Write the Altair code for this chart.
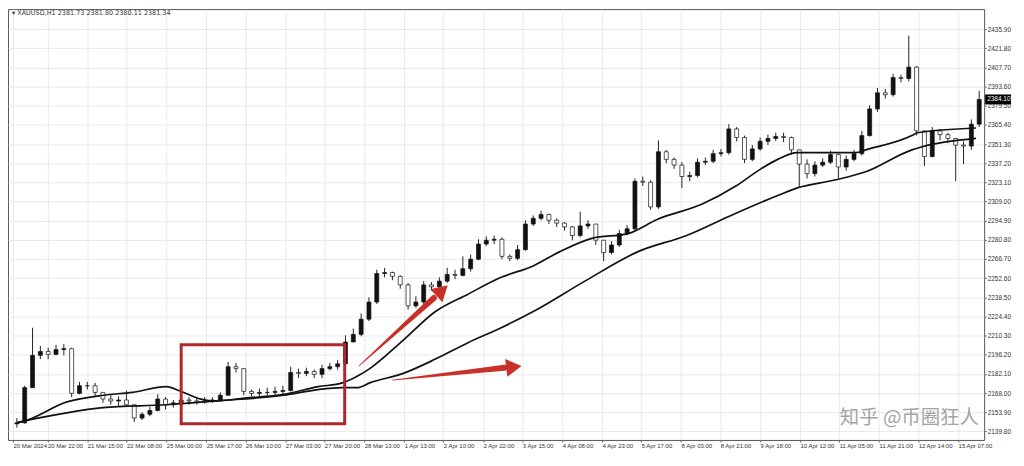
import json
import altair as alt
import pandas as pd

# ---------------- data ----------------
first_open = 2145.4
closes = [2146.1, 2172.0, 2195.8, 2198.6, 2196.5, 2200.0, 2200.7, 2167.8, 2173.4, 2173.4,
          2168.5, 2163.6, 2162.2, 2162.9, 2159.4, 2149.6, 2152.4, 2155.2, 2163.6, 2159.4,
          2160.8, 2162.9, 2162.2, 2161.5, 2162.2, 2162.9, 2166.4, 2187.4, 2186.0, 2169.2,
          2167.8, 2168.5, 2168.5, 2169.2, 2169.9, 2183.2, 2182.5, 2183.9, 2181.8, 2186.0,
          2187.4, 2189.5, 2205.6, 2211.2, 2222.4, 2235.0, 2256.0, 2256.7, 2253.9, 2247.6,
          2232.2, 2235.0, 2247.6, 2246.2, 2250.4, 2255.3, 2254.6, 2259.5, 2266.5, 2277.7,
          2280.5, 2281.2, 2268.6, 2267.2, 2273.5, 2292.4, 2296.6, 2299.4, 2295.2, 2293.1,
          2290.3, 2284.0, 2291.0, 2292.4, 2280.5, 2271.4, 2277.0, 2285.4, 2288.9, 2323.9,
          2323.2, 2305.0, 2345.6, 2340.0, 2335.8, 2327.4, 2328.1, 2337.9, 2338.6, 2344.2,
          2344.9, 2362.4, 2356.1, 2340.0, 2347.7, 2353.3, 2355.4, 2356.8, 2356.1, 2347.0,
          2336.5, 2329.5, 2335.8, 2337.9, 2343.5, 2334.4, 2340.0, 2344.2, 2357.5, 2377.1,
          2389.0, 2387.6, 2400.2, 2399.5, 2407.9, 2361.0, 2342.1, 2361.0, 2358.2, 2355.4,
          2350.5, 2349.8, 2365.9, 2384.1]
highs = [2149.6, 2173.4, 2216.1, 2202.8, 2201.4, 2203.5, 2204.2, 2201.4, 2176.2, 2176.2,
         2175.5, 2168.5, 2166.4, 2165.7, 2169.9, 2159.4, 2153.8, 2158.0, 2167.1, 2165.0,
         2162.9, 2166.4, 2165.0, 2164.3, 2165.0, 2165.0, 2168.5, 2190.9, 2190.2, 2186.0,
         2170.6, 2171.3, 2172.0, 2172.7, 2173.4, 2187.4, 2186.0, 2186.7, 2185.3, 2188.8,
         2190.2, 2192.3, 2210.5, 2215.4, 2226.6, 2238.5, 2258.8, 2260.2, 2257.4, 2254.6,
         2249.0, 2239.2, 2250.4, 2249.7, 2253.2, 2260.2, 2258.8, 2268.6, 2270.0, 2281.2,
         2283.3, 2284.0, 2282.6, 2270.0, 2277.0, 2295.2, 2298.7, 2302.2, 2300.1, 2296.6,
         2293.8, 2291.0, 2301.5, 2295.2, 2292.4, 2280.5, 2279.8, 2288.2, 2291.7, 2326.0,
         2327.4, 2324.6, 2354.0, 2347.0, 2341.4, 2337.9, 2330.9, 2340.7, 2341.4, 2347.0,
         2347.7, 2365.9, 2363.8, 2357.5, 2350.5, 2356.1, 2358.2, 2359.6, 2359.6, 2356.8,
         2347.0, 2340.0, 2338.6, 2340.7, 2346.3, 2344.2, 2342.8, 2347.0, 2361.0, 2379.9,
         2392.5, 2391.8, 2403.0, 2402.3, 2431.0, 2408.6, 2361.0, 2363.8, 2362.4, 2359.6,
         2355.4, 2353.3, 2369.4, 2390.4]
lows = [2142.6, 2145.4, 2172.0, 2193.0, 2193.0, 2195.8, 2195.8, 2165.0, 2167.1, 2170.6,
        2165.0, 2160.8, 2159.4, 2158.7, 2158.0, 2146.8, 2148.2, 2151.0, 2154.5, 2155.9,
        2157.3, 2158.7, 2159.4, 2159.4, 2160.1, 2160.8, 2161.5, 2166.4, 2183.2, 2166.4,
        2165.7, 2165.7, 2166.4, 2166.4, 2167.1, 2169.2, 2179.0, 2180.4, 2179.0, 2179.0,
        2184.6, 2185.3, 2188.1, 2205.6, 2209.8, 2221.0, 2233.6, 2253.2, 2251.1, 2244.8,
        2229.4, 2230.8, 2233.6, 2243.4, 2244.8, 2249.0, 2251.8, 2253.9, 2257.4, 2265.8,
        2276.3, 2277.7, 2266.5, 2265.1, 2265.8, 2272.8, 2291.0, 2295.2, 2292.4, 2290.3,
        2287.5, 2280.5, 2282.6, 2288.9, 2277.0, 2265.1, 2270.0, 2275.6, 2284.0, 2287.5,
        2320.4, 2302.9, 2303.6, 2337.2, 2333.0, 2319.0, 2323.9, 2326.7, 2335.8, 2337.2,
        2342.1, 2343.5, 2353.3, 2337.2, 2338.6, 2346.3, 2350.5, 2353.3, 2352.6, 2343.5,
        2319.0, 2326.0, 2327.4, 2334.4, 2336.5, 2326.0, 2331.6, 2338.6, 2342.8, 2356.8,
        2375.0, 2384.8, 2386.2, 2396.7, 2397.4, 2357.5, 2335.1, 2341.4, 2354.0, 2351.9,
        2323.9, 2336.5, 2347.0, 2363.8]

ma_fast_bar = [0, 1, 6.4, 11, 14.75, 19.1, 21, 23.5, 25.4, 29.1, 34.1, 38.5, 41.6, 43.5, 45.1,
               49.4, 53.5, 57.6, 61.9, 66, 69.4, 73.5, 78.1, 81.9, 87.6, 91.9, 95.1, 97.25,
               99.75, 104.4, 107.25, 108.5, 114.4, 115.1, 122.6]
ma_fast_val = [2146.1, 2147.5, 2161.5, 2166.4, 2168.5, 2172.7, 2169.2, 2163.6, 2162.2, 2164.3,
               2167.1, 2172.7, 2175.5, 2180.4, 2186.0, 2207.0, 2228.0, 2240.6, 2253.2, 2261.6,
               2272.1, 2281.9, 2285.4, 2295.9, 2307.1, 2320.4, 2333.0, 2340.0, 2344.9, 2344.9,
               2344.9, 2347.0, 2357.5, 2359.6, 2363.1]
ma_slow_bar = [0, 1, 6, 11, 19.1, 25.4, 34.1, 38.5, 41.6, 43.5, 45.1, 49.4, 53.5, 57.6, 61.9,
               66, 72.6, 79.4, 85.6, 91, 97.25, 99.75, 104.4, 108.5, 114.4, 115.6, 122.6]
ma_slow_val = [2146.1, 2147.5, 2153.1, 2157.3, 2159.4, 2162.2, 2166.4, 2170.6, 2172.0, 2172.0,
               2175.5, 2182.5, 2193.0, 2204.9, 2216.1, 2228.0, 2250.4, 2272.1, 2284.0, 2298.0,
               2313.4, 2319.0, 2324.6, 2330.9, 2347.0, 2349.1, 2355.4]

ytick_vals = [2435.90, 2421.80, 2407.70, 2393.60, 2379.50, 2365.40, 2351.30, 2337.20,
              2323.10, 2309.00, 2294.90, 2280.80, 2266.70, 2252.60, 2238.50, 2224.40,
              2210.30, 2196.20, 2182.10, 2168.00, 2153.90, 2139.80]
xtick_pos = [-0.5, 3.9, 9.0, 14.0, 19.1, 24.2, 29.2, 34.3, 39.3, 44.4, 49.5, 54.5, 59.6,
             64.6, 69.7, 74.8, 79.8, 84.9, 89.9, 95.0, 100.1, 105.1, 110.2, 115.2, 120.3]
xtick_labels = ["20 Mar 2024", "20 Mar 22:00", "21 Mar 15:00", "22 Mar 08:00", "25 Mar 00:00",
                "25 Mar 17:00", "26 Mar 10:00", "27 Mar 03:00", "27 Mar 20:00", "28 Mar 13:00",
                "1 Apr 13:00", "2 Apr 10:00", "2 Apr 22:00", "3 Apr 15:00", "4 Apr 08:00",
                "4 Apr 23:00", "5 Apr 17:00", "8 Apr 03:00", "8 Apr 21:00", "9 Apr 18:00",
                "10 Apr 12:00", "11 Apr 05:00", "11 Apr 21:00", "12 Apr 14:00", "15 Apr 07:00"]

# annotation box and arrows (bar index, price)
box_bar = [21.0, 41.9]
box_price = [2145.4, 2203.5]
arrow_id = ["a1", "a1", "a2", "a2"]
arrow_bar = [43.75, 53.3, 48.0, 62.3]
arrow_price = [2188.1, 2238.0, 2177.6, 2186.6]
arrow_width = [0.8, 6.0, 0.8, 6.0]
head_bar = [54.1, 63.2]
head_price = [2242.2, 2187.0]
head_angle = [47, 83]

title_text = "\u25be XAUUSD,H1  2381.73 2381.80 2380.11 2381.34"
watermark = "知乎 @币圈狂人"

# ---------------- build ----------------
W, H = 981, 433
opens = [first_open] + closes[:-1]
candles = pd.DataFrame({"i": list(range(len(closes))), "open": opens, "close": closes,
                        "high": highs, "low": lows})
fast = pd.DataFrame({"i": ma_fast_bar, "v": ma_fast_val})
slow = pd.DataFrame({"i": ma_slow_bar, "v": ma_slow_val})
box = pd.DataFrame({"x1": [box_bar[0]], "x2": [box_bar[1]], "y1": [box_price[0]], "y2": [box_price[1]]})
arrows = pd.DataFrame({"id": arrow_id, "i": arrow_bar, "v": arrow_price, "w": arrow_width,
                       "o": [0, 1, 0, 1]})
heads = pd.DataFrame({"i": head_bar, "v": head_price, "a": head_angle})
last = pd.DataFrame({"v": [closes[-1]], "t": [f"{closes[-1]:.2f}"]})

lbl_expr = f"{json.dumps(xtick_labels)}[indexof({json.dumps(xtick_pos)}, datum.value)]"

xscale = alt.Scale(domain=[-0.5, 123.0], nice=False, zero=False)
yscale = alt.Scale(domain=[2133.5, 2450.6], nice=False, zero=False)
xaxis = alt.Axis(values=xtick_pos, labelExpr=lbl_expr, labelAlign="left", labelFontSize=6,
                 labelFont="Liberation Sans", labelColor="#333", tickSize=2, tickColor="#555",
                 labelPadding=1, grid=True, gridColor="#e4e4e4", gridWidth=0.8, domain=False,
                 labelOverlap=False, labelFlush=False, title=None)
yaxis = alt.Axis(orient="right", values=ytick_vals, format=".2f", labelFontSize=6.5,
                 labelFont="Liberation Sans", labelColor="#333", tickSize=2, tickColor="#555",
                 labelPadding=1, grid=True, gridColor="#e4e4e4", gridWidth=0.8, domain=False,
                 labelOverlap=False, title=None)


def X(f):
    return alt.X(f, type="quantitative", scale=xscale, axis=xaxis, title=None)


def Y(f):
    return alt.Y(f, type="quantitative", scale=yscale, axis=yaxis, title=None)


wicks = alt.Chart(candles).mark_rule(color="#222", strokeWidth=1).encode(
    x=X("i"), y=Y("low"), y2="high")
bodies = alt.Chart(candles).mark_bar(size=4, stroke="#111", strokeWidth=0.7).encode(
    x=X("i"), y=Y("open"), y2="close",
    fill=alt.condition("datum.close >= datum.open", alt.value("#111"), alt.value("#ffffff")))
fast_line = alt.Chart(fast).mark_line(color="#111", strokeWidth=1.7, interpolate="monotone").encode(
    x=X("i"), y=Y("v"))
slow_line = alt.Chart(slow).mark_line(color="#111", strokeWidth=1.7, interpolate="monotone").encode(
    x=X("i"), y=Y("v"))
rect = alt.Chart(box).mark_rect(fill=None, fillOpacity=0, stroke="#b0272b", strokeWidth=3).encode(
    x=X("x1"), x2="x2", y=Y("y1"), y2="y2")
shafts = alt.Chart(arrows).mark_trail(color="#c9302a").encode(
    x=X("i"), y=Y("v"), detail="id:N", order="o:Q",
    size=alt.Size("w:Q", scale=None, legend=None))
tips = alt.Chart(heads).mark_point(shape="triangle", filled=True, size=320, color="#c9302a",
                                   opacity=1).encode(
    x=X("i"), y=Y("v"), angle=alt.Angle("a:Q", scale=None))
price_tag = alt.Chart(last).mark_rule(color="#000", strokeWidth=10).encode(
    x=alt.value(W + 1), x2=alt.value(W + 27), y=Y("v"))
price_txt = alt.Chart(last).mark_text(color="#fff", fontSize=6.5, font="Liberation Sans",
                                      align="left", baseline="middle").encode(
    x=alt.value(W + 3), y=Y("v"), text="t:N")
title = alt.Chart(pd.DataFrame({"t": [title_text]})).mark_text(
    fontSize=6.5, font="DejaVu Sans", color="#333", align="left", baseline="top").encode(
    x=alt.value(4), y=alt.value(1), text="t:N")
wm = alt.Chart(pd.DataFrame({"t": [watermark]})).mark_text(
    fontSize=19.5, font="Noto Sans CJK SC", color="#8e8e8e", opacity=0.8, align="left",
    baseline="middle").encode(x=alt.value(836), y=alt.value(411), text="t:N")

chart = alt.layer(wicks, bodies, slow_line, fast_line, rect, shafts, tips, price_tag, price_txt,
                  title, wm).properties(
    width=W, height=H, padding={"left": 0, "top": 0, "right": 0, "bottom": 0},
    background="white"
).configure_view(stroke="#555", strokeWidth=1)

chart.save("out.html", embed_options={"renderer": "svg", "actions": False})
